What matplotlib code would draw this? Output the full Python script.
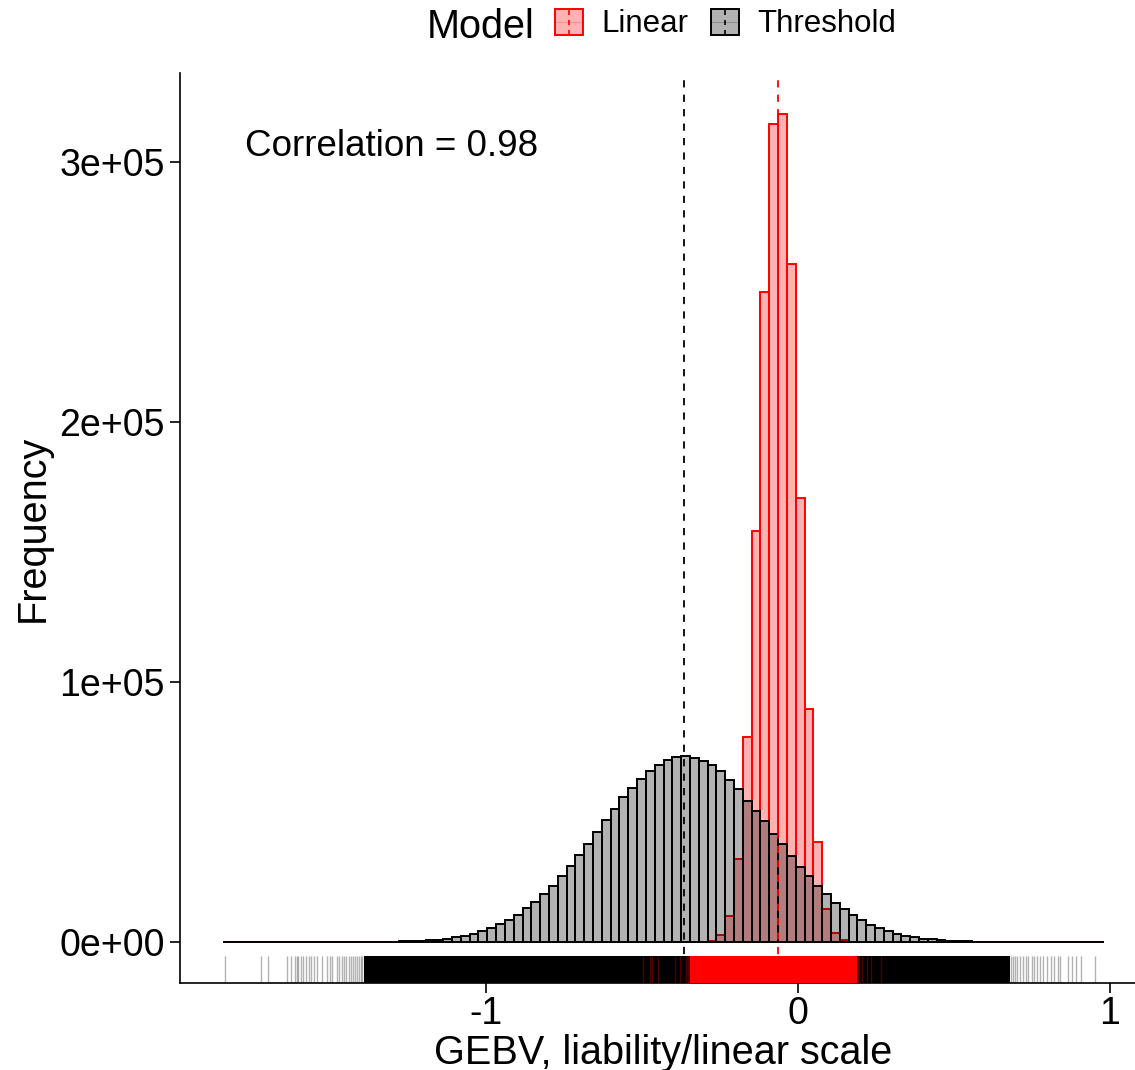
import numpy as np
import matplotlib
matplotlib.use('Agg')
import matplotlib.pyplot as plt
from matplotlib.patches import Patch, Rectangle
from matplotlib.lines import Line2D
from matplotlib.legend_handler import HandlerBase

plt.rcParams['font.family'] = ['Liberation Sans', 'DejaVu Sans']

# histogram binning (100 bins shared by both models)
BIN_START = -1.843
BIN_WIDTH = 0.02824
N_BINS = 100

# counts per bin
threshold_counts = [
    1, 0, 0, 0, 0, 0, 1, 0, 1, 2,
    3, 5, 8, 12, 18, 28, 42, 65, 100, 150,
    220, 320, 460, 650, 900, 1250, 1750, 2350, 3150, 4150,
    5350, 6750, 8400, 10500, 12950, 15400, 18300, 21600, 25500, 29200,
    33400, 37700, 42300, 47050, 51150, 55650, 59350, 62600, 65700, 68000,
    69900, 71000, 71400, 70700, 69700, 67950, 65650, 62300, 58850, 54350,
    50400, 46550, 41550, 37600, 33100, 28950, 25250, 21650, 18400, 15100,
    12800, 10400, 8450, 6650, 5400, 4300, 3200, 2350, 1800, 1300,
    1000, 650, 450, 300, 200, 130, 85, 55, 35, 22,
    14, 9, 5, 3, 2, 1, 1, 0, 0, 1,
]
linear_counts = ([0] * 53 +
                 [10, 60, 400, 2600, 10100, 32000, 79000, 158000, 250000, 314600,
                  318500, 260800, 170600, 89800, 38300, 12800, 3600, 800, 150, 30, 5] +
                 [0] * 26)

# model means (dashed lines)
threshold_mean = -0.365
linear_mean = -0.064

# rug: isolated values and the fully dense stretch
threshold_rug = [-1.837, -1.722, -1.700, -1.637, -1.625, -1.612, -1.607, -1.602, -1.593,
                 -1.586, -1.578, -1.567, -1.561, -1.551, -1.543, -1.525, -1.509, -1.500,
                 -1.493, -1.479, -1.470, -1.462, -1.455, -1.448, -1.440, -1.434, -1.427,
                 -1.420, -1.414, -1.408, -1.402, -1.396,
                 0.684, 0.690, 0.696, 0.703, 0.712, 0.722, 0.731, 0.738, 0.749, 0.757,
                 0.767, 0.776, 0.786, 0.797, 0.810, 0.821, 0.832, 0.840, 0.866, 0.877,
                 0.891, 0.907, 0.952]
threshold_rug_dense = (-1.39, 0.68)
linear_rug = [-0.496, -0.474, -0.467, -0.448, -0.394, -0.378, -0.360, -0.352,
              0.192, 0.197, 0.204, 0.222, 0.233, 0.266]
linear_rug_dense = (-0.346, 0.188)

correlation_text = "Correlation = 0.98"
y_ticks = [0, 100000, 200000, 300000]
y_tick_labels = ["0e+00", "1e+05", "2e+05", "3e+05"]
x_ticks = [-1, 0, 1]
x_tick_labels = ["-1", "0", "1"]


class KeyHandler(HandlerBase):
    # ggplot style key: filled square with the dashed mean line through it
    def create_artists(self, legend, orig_handle, xdescent, ydescent, width, height, fontsize, trans):
        x0, y0 = -xdescent, -ydescent
        edge = orig_handle.get_edgecolor()
        rect = Rectangle((x0, y0), width, height, facecolor=orig_handle.get_facecolor(),
                         edgecolor=edge, lw=1.4, transform=trans)
        hline = Line2D([x0, x0 + width], [y0 + height / 2] * 2, color=edge, lw=0.6,
                       alpha=0.25, transform=trans)
        vline = Line2D([x0 + width / 2] * 2, [y0, y0 + height], color=edge, lw=1.2,
                       dashes=(3, 3), transform=trans)
        return [rect, hline, vline]


W, H = 1135, 1070
fig = plt.figure(figsize=(W / 100, H / 100), dpi=100)
ax = fig.add_axes([180 / W, (H - 983) / H, (1146 - 180) / W, (983 - 73) / H])

edges = BIN_START + BIN_WIDTH * np.arange(N_BINS + 1)

ax.bar(edges[:-1], linear_counts, width=BIN_WIDTH, align='edge',
       facecolor=(1, 0, 0, 0.3), edgecolor='red', lw=1.4, zorder=2)
ax.bar(edges[:-1], threshold_counts, width=BIN_WIDTH, align='edge',
       facecolor=(0, 0, 0, 0.3), edgecolor='black', lw=1.4, zorder=3)

ax.axvline(threshold_mean, color='black', lw=1.3, dashes=(4, 4), zorder=4)
ax.axvline(linear_mean, color='red', lw=1.3, dashes=(4, 4), zorder=4)

# rug along the bottom of the panel
ax.axvspan(*threshold_rug_dense, ymin=0, ymax=0.03, color='black', lw=0, zorder=5)
ax.vlines(threshold_rug, 0, 0.03, transform=ax.get_xaxis_transform(),
          color='black', alpha=0.3, lw=1.0, zorder=5)
ax.axvspan(*linear_rug_dense, ymin=0, ymax=0.03, color='red', lw=0, zorder=6)
ax.vlines(linear_rug, 0, 0.03, transform=ax.get_xaxis_transform(),
          color='red', alpha=0.3, lw=1.0, zorder=6)

ax.text(-1.772, 305800, correlation_text, fontsize=26.5, ha='left', va='center')

ax.set_xlim((180 - 798) / 312, (1146 - 798) / 312)
ax.set_ylim(-15770, 334230)
ax.set_xticks(x_ticks)
ax.set_xticklabels(x_tick_labels)
ax.set_yticks(y_ticks)
ax.set_yticklabels(y_tick_labels)
ax.tick_params(labelsize=27, length=7, width=1.2, colors='black', pad=4)
ax.tick_params(axis='x', pad=2)
for side in ['top', 'right']:
    ax.spines[side].set_visible(False)
for side in ['left', 'bottom']:
    ax.spines[side].set_linewidth(1.2)

ax.set_xlabel("GEBV, liability/linear scale", fontsize=28.5)
ax.set_ylabel("Frequency", fontsize=28.5)
ax.xaxis.set_label_coords(0.5, (983 - 1034) / 910)
ax.yaxis.set_label_coords((52 - 180) / 966, 0.5)

# legend on top
fig.text(427 / W, 1 - 27 / H, "Model", fontsize=28.5, ha='left', va='center')
handles = [Patch(facecolor=(1, 0, 0, 0.3), edgecolor='red'),
           Patch(facecolor=(0, 0, 0, 0.3), edgecolor='black')]
fig.legend(handles, ["Linear", "Threshold"], handler_map={Patch: KeyHandler()},
           loc='center left', bbox_to_anchor=(555 / W, 1 - 24 / H), ncol=2,
           frameon=False, fontsize=22.5, handlelength=0.9, handleheight=0.9,
           handletextpad=0.6, columnspacing=0.7, borderpad=0, borderaxespad=0)

fig.savefig("out.png", dpi=100)
